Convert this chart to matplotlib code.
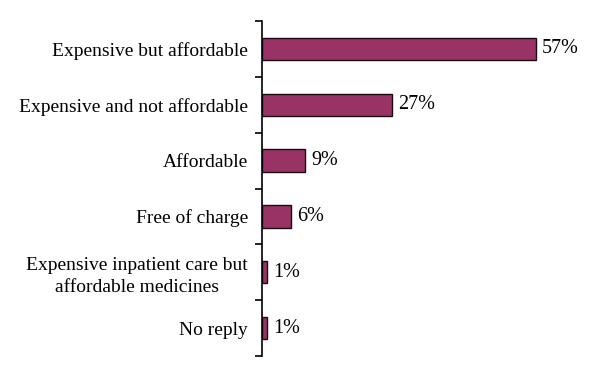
import matplotlib.pyplot as plt
import numpy as np

categories = ["Expensive but affordable", "Expensive and not affordable", "Affordable",
              "Free of charge", "Expensive inpatient care but\naffordable medicines", "No reply"]
values = [57, 27, 9, 6, 1, 1]

plt.rcParams['font.family'] = ['Liberation Serif', 'DejaVu Serif']

fig = plt.figure(figsize=(6, 3.77), dpi=100)
ax = fig.add_axes([262 / 600, 1 - 356 / 377, 336 / 600, 335 / 377])

y_pos = np.arange(len(categories))
ax.barh(y_pos, values, height=0.4, color="#993366", edgecolor="#1a0a10", linewidth=1)
for y, v in zip(y_pos, values):
    ax.text(v + 1.3, y, f"{v}%", va='center', ha='left', fontsize=14.5)

ax.set_ylim(len(categories) - 0.5, -0.5)
ax.set_xlim(0, 70)
ax.set_yticks(y_pos)
ax.set_yticklabels(categories, fontsize=14, multialignment='center', linespacing=1.35)
ax.tick_params(axis='y', which='major', length=0, pad=10)
ax.set_yticks(np.arange(len(categories) + 1) - 0.5, minor=True)
ax.tick_params(axis='y', which='minor', length=5, width=1.2)
ax.set_xticks([])
for s in ['top', 'right', 'bottom']:
    ax.spines[s].set_visible(False)
ax.spines['left'].set_linewidth(1.2)

fig.savefig("out.png", dpi=100)
